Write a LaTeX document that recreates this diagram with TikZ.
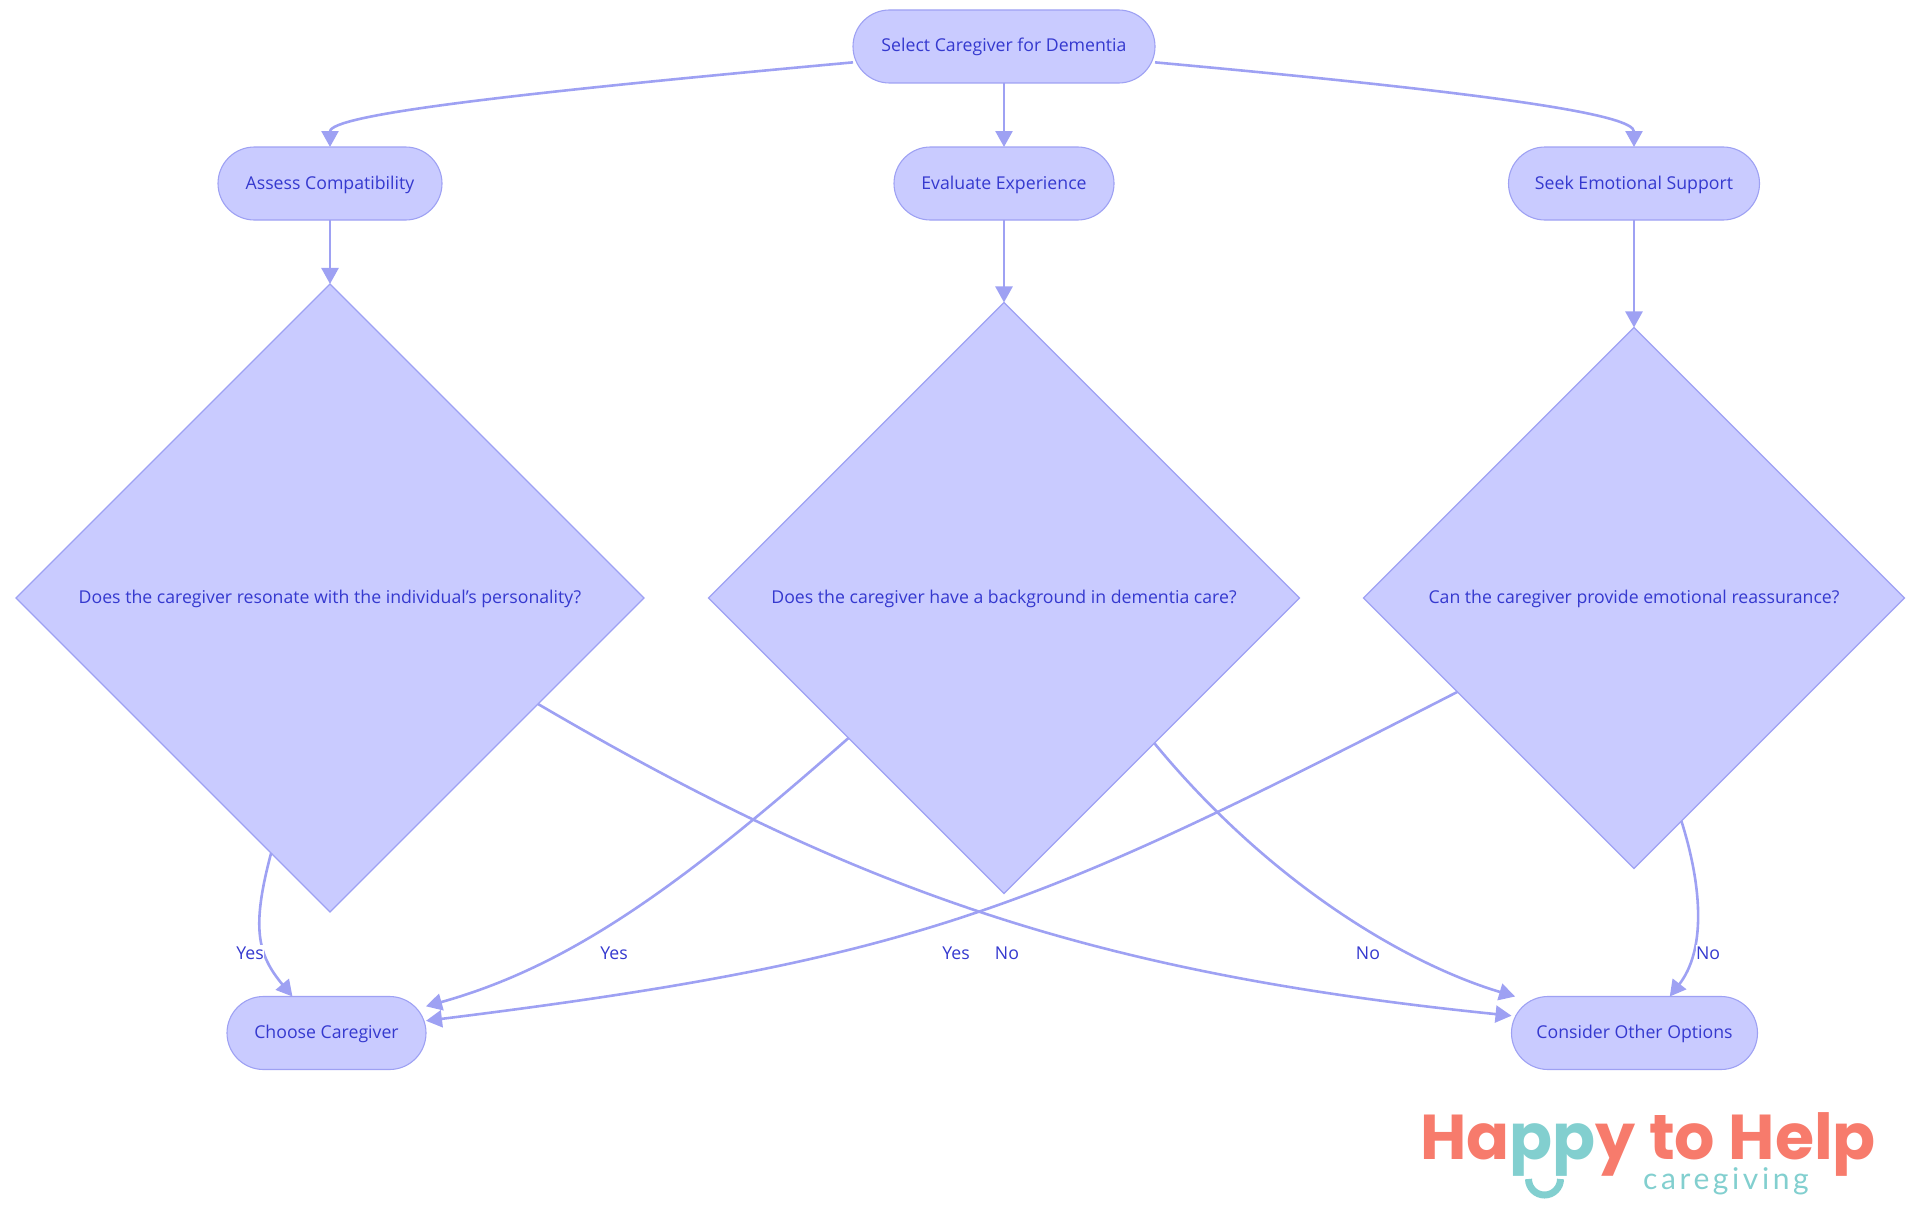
\documentclass[tikz,border=0pt]{standalone}
\usepackage{fontspec}
\usetikzlibrary{arrows.meta,shapes.geometric}
\setmainfont{Open Sans}
\newfontfamily\logofont{Poppins}
\newfontfamily\subfont[LetterSpace=12]{Lato}
\definecolor{edgeblue}{HTML}{9EA1F3}
\definecolor{fillblue}{HTML}{C9CBFF}
\definecolor{textblue}{HTML}{3539CF}
\definecolor{logored}{HTML}{F77B6C}
\definecolor{logoteal}{HTML}{82CFCF}
\tikzset{
  box/.style = {draw=edgeblue, fill=fillblue, text=textblue, line width=1.1pt, rectangle,
    rounded corners=36.5pt, minimum height=73pt, inner sep=0pt, outer sep=0pt,
    text height=14.5pt, text depth=3.5pt, font=\fontsize{17.7}{22}\selectfont},
  choice/.style = {draw=edgeblue, fill=fillblue, text=textblue, line width=1.1pt, diamond, aspect=1,
    inner sep=0pt, outer sep=0pt, text height=14.5pt, text depth=3.5pt, font=\fontsize{17.7}{22}\selectfont},
  flow/.style = {draw=edgeblue, line width=2.6pt, -{Triangle[length=16pt,width=17pt]}},
  answer/.style = {text=textblue, fill=white, text height=14.5pt, text depth=3.5pt,
    font=\fontsize{17.7}{22}\selectfont, inner sep=0pt}
}
\begin{document}
\begin{tikzpicture}[x=1pt, y=-1pt]
  \useasboundingbox (0,0) rectangle (1920,1215);
  \node[box, minimum width=302pt] (select) at (1004,46.5) {Select Caregiver for Dementia};
  \node[box, minimum width=224pt] (assess) at (330,183.5) {Assess Compatibility};
  \node[box, minimum width=220pt] (evaluate) at (1004,183.5) {Evaluate Experience};
  \node[box, minimum width=251pt] (seek) at (1634,183.5) {Seek Emotional Support};
  \node[choice, minimum width=628pt, minimum height=628pt] (resonate) at (330,598) {Does the caregiver resonate with the individual's personality?};
  \node[choice, minimum width=591pt, minimum height=591pt] (background) at (1004,598) {Does the caregiver have a background in dementia care?};
  \node[choice, minimum width=541pt, minimum height=541pt] (reassure) at (1634,598) {Can the caregiver provide emotional reassurance?};
  \node[box, minimum width=199pt] (choose) at (326.5,1033) {Choose Caregiver};
  \node[box, minimum width=246pt] (consider) at (1634.5,1033) {Consider Other Options};
  % top level
  \draw[flow] (select.186) .. controls +(-350,32) and +(0,-32) .. (assess.north);
  \draw[flow] (select) -- (evaluate);
  \draw[flow] (select.354) .. controls +(350,32) and +(0,-32) .. (seek.north);
  % down to the questions
  \draw[flow] (assess) -- (resonate);
  \draw[flow] (evaluate) -- (background);
  \draw[flow] (seek) -- (reassure);
  % answers
  \draw[flow] (resonate.257.5) .. controls +(-20,75) and +(-35,-42) .. (choose.133.8);
  \draw[flow] (background.222.7) .. controls +(-170,150) and +(143,-40) .. (choose.15.7);
  \draw[flow] (reassure.208) .. controls +(-420,215) and +(500,-62) .. (choose.7.4);
  \draw[flow] (resonate.-27.4) .. controls +(324,190) and +(-412,-42) .. (consider.172.6);
  \draw[flow] (background.-44.2) .. controls +(117,142) and +(-107,-32) .. (consider.163.7);
  \draw[flow] (reassure.-78.2) .. controls +(22,70) and +(35,-45) .. (consider.46.6);
  % labels
  \node[answer] (yesa) at (250,954) {Yes};
  \node[answer] (yesb) at (614,954) {Yes};
  \node[answer] (yesc) at (956,954) {Yes};
  \node[answer] (noa) at (1007,954) {No};
  \node[answer] (nob) at (1368,954) {No};
  \node[answer] (noc) at (1708,954) {No};
  % logo
  \node[anchor=base west, inner sep=0pt, font=\fontsize{63.4}{64}\logofont\bfseries] (logo) at (1420,1159)
    {\textcolor{logored}{Ha}\textcolor{logoteal}{pp}\textcolor{logored}{y to Help}};
  \node[anchor=base west, inner sep=0pt, text=logoteal, font=\fontsize{30}{30}\subfont] (sub) at (1643,1189) {caregiving};
  \draw[logoteal, line width=7pt] (1528.5,1179) arc[start angle=180, end angle=360, radius=16pt];
\end{tikzpicture}
\end{document}
